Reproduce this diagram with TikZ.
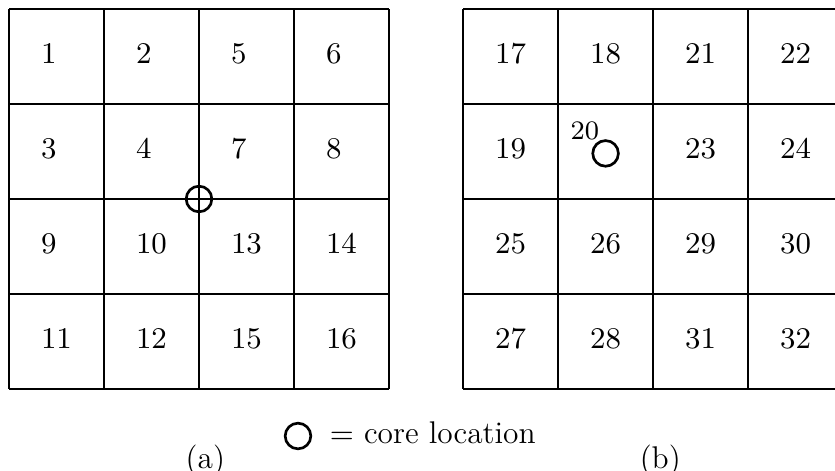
\documentclass[tikz,border=0pt]{standalone}
\usepackage{fontspec}
\usetikzlibrary{positioning}
\newfontfamily{\legendfamily}{lmroman12-regular.otf}
\newcommand{\cellfont}{\fontsize{9}{11}\selectfont}
\newcommand{\smallcellfont}{\fontsize{8}{10}\selectfont}
\newcommand{\legendfont}{\legendfamily\fontsize{9.4}{11}\selectfont}
\begin{document}
\begin{tikzpicture}[
    gridline/.style={line width=0.6pt},
    num/.style={anchor=base west, inner sep=0pt, font=\cellfont},
    core/.style={circle, draw, line width=0.8pt, minimum size=0.27cm, inner sep=0pt},
    caption/.style={anchor=base west, inner sep=0pt, font=\legendfont},
]
\useasboundingbox (-0.095,-0.863) rectangle (8.695,4.095);

% Grid (a)
\draw[gridline] (0,0) grid (4,4);
% Grid (b)
\draw[gridline, shift={(4.78,0)}] (0,0) grid (4,4);

% Numbers (a)
\node[num] (n1) at (0.33,3.43) {1};
\node[num] (n2) at (1.33,3.43) {2};
\node[num] (n5) at (2.33,3.43) {5};
\node[num] (n6) at (3.33,3.43) {6};
\node[num] (n3) at (0.33,2.43) {3};
\node[num] (n4) at (1.33,2.43) {4};
\node[num] (n7) at (2.33,2.43) {7};
\node[num] (n8) at (3.33,2.43) {8};
\node[num] (n9) at (0.33,1.43) {9};
\node[num] (n10) at (1.33,1.43) {10};
\node[num] (n13) at (2.33,1.43) {13};
\node[num] (n14) at (3.33,1.43) {14};
\node[num] (n11) at (0.33,0.43) {11};
\node[num] (n12) at (1.33,0.43) {12};
\node[num] (n15) at (2.33,0.43) {15};
\node[num] (n16) at (3.33,0.43) {16};

% Numbers (b)
\node[num] (n17) at (5.11,3.43) {17};
\node[num] (n18) at (6.11,3.43) {18};
\node[num] (n21) at (7.11,3.43) {21};
\node[num] (n22) at (8.11,3.43) {22};
\node[num] (n19) at (5.11,2.43) {19};
\node[num, font=\smallcellfont] (n20) at (5.906,2.63) {20};
\node[num] (n23) at (7.11,2.43) {23};
\node[num] (n24) at (8.11,2.43) {24};
\node[num] (n25) at (5.11,1.43) {25};
\node[num] (n26) at (6.11,1.43) {26};
\node[num] (n29) at (7.11,1.43) {29};
\node[num] (n30) at (8.11,1.43) {30};
\node[num] (n27) at (5.11,0.43) {27};
\node[num] (n28) at (6.11,0.43) {28};
\node[num] (n31) at (7.11,0.43) {31};
\node[num] (n32) at (8.11,0.43) {32};

% Core locations
\node[core] (corea) at (2,2) {};
\node[core] (coreb) at (6.28,2.48) {};

% Legend
\node[core] (legcore) at (3.042,-0.495) {};
\node[caption] (legtext) at (3.37,-0.579) {$=$ core location};

% Captions
\node[caption] (capa) at (1.853,-0.842) {(a)};
\node[caption] (capb) at (6.633,-0.842) {(b)};

\end{tikzpicture}
\end{document}
